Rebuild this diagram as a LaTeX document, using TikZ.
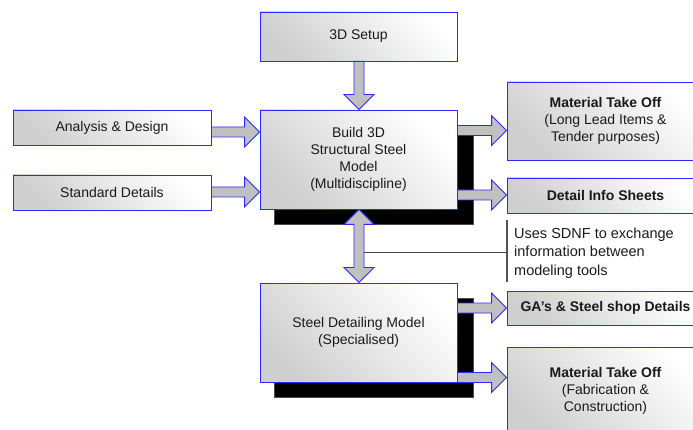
\documentclass[tikz,border=0pt]{standalone}
\usepackage{fontspec}
\setmainfont{Liberation Sans}
\usetikzlibrary{calc}

\definecolor{edgeblue}{HTML}{2B2BFF}
\definecolor{arrowgray}{HTML}{C0C0C0}
\definecolor{inkgray}{HTML}{1A1A1A}
\definecolor{notegray}{HTML}{555555}

% horizontal block arrow: from anchor #1 to anchor #2 at row #3
\newcommand\hblock[3]{%
  \path (#1 |- 0,#3) coordinate (hb-s) (#2 |- 0,#3) coordinate (hb-t);
  \draw[blockarrow] ($(hb-s)+(0,-5)$) -- ($(hb-t)+(-15,-5)$) -- ($(hb-t)+(-15,-15)$)
    -- (hb-t) -- ($(hb-t)+(-15,15)$) -- ($(hb-t)+(-15,5)$) -- ($(hb-s)+(0,5)$) -- cycle;}

% vertical block arrow pointing down: from anchor #1 to anchor #2 at column #3
\newcommand\vblock[3]{%
  \path (#3,0 |- #1) coordinate (vb-s) (#3,0 |- #2) coordinate (vb-t);
  \draw[blockarrow] ($(vb-s)+(-5,0)$) -- ($(vb-t)+(-5,-15)$) -- ($(vb-t)+(-15,-15)$)
    -- (vb-t) -- ($(vb-t)+(15,-15)$) -- ($(vb-t)+(5,-15)$) -- ($(vb-s)+(5,0)$) -- cycle;}

\tikzset{
  box/.style={draw=edgeblue, line width=0.9pt, top color=white, bottom color=gray!38,
    shading angle=-45, text=inkgray, align=center, inner sep=0pt,
    minimum width=197pt, font=\fontsize{14}{17}\selectfont},
  shadowbox/.style={fill=black, draw=black!70, line width=0.5pt},
  blockarrow/.style={draw=edgeblue, fill=arrowgray, line width=0.9pt, line join=miter},
  notebar/.style={draw=notegray, line width=1.2pt},
  noteline/.style={draw=black!75, line width=0.8pt},
}

\begin{document}
\begin{tikzpicture}[x=1pt, y=-1pt]
  \useasboundingbox (0,0) rectangle (693,430);
  \clip (0,0) rectangle (693,430);

  % drop shadows of the two model boxes
  \fill[shadowbox] (274,125) rectangle (473,224);
  \fill[shadowbox] (274,298) rectangle (473,397);

  % boxes
  \node[box, minimum height=49pt] (setup) at (358.5,36.5) {3D Setup};
  \node[box, minimum height=99pt] (build) at (358.5,159.5)
    {Build 3D\\Structural Steel\\Model\\(Multidiscipline)};
  \node[box, minimum width=198pt, minimum height=35pt] (analysis) at (112,127.5) {Analysis \& Design};
  \node[box, minimum width=198pt, minimum height=35pt] (standard) at (112,192.5) {Standard Details};
  \node[box, minimum height=78pt] (mto1) at (605.5,121)
    {\textbf{Material Take Off}\\(Long Lead Items \&\\Tender purposes)};
  \node[box, minimum height=35pt] (info) at (605.5,195.5) {\textbf{Detail Info Sheets}};
  \node[box, minimum height=99pt] (detail) at (358.5,332.5)
    {Steel Detailing Model\\(Specialised)};
  \node[box, minimum height=34pt] (ga) at (605.5,308) {\textbf{GA’s \& Steel shop Details}};
  \node[box, minimum height=88pt] (mto2) at (605.5,391)
    {\textbf{Material Take Off}\\(Fabrication \&\\Construction)};

  % connectors
  \vblock{setup.south}{build.north}{359}
  \hblock{analysis.east}{build.west}{132}
  \hblock{standard.east}{build.west}{192}
  \hblock{build.east}{mto1.west}{130.5}
  \hblock{build.east}{info.west}{195}
  \hblock{detail.east}{ga.west}{308}
  \hblock{detail.east}{mto2.west}{377.5}

  % two-way exchange between the models
  \path (359,0 |- build.south) coordinate (xt) (359,0 |- detail.north) coordinate (xb);
  \draw[blockarrow] (xt) -- ($(xt)+(15,15)$) -- ($(xt)+(5,15)$) -- ($(xb)+(5,-15)$)
    -- ($(xb)+(15,-15)$) -- (xb) -- ($(xb)+(-15,-15)$) -- ($(xb)+(-5,-15)$)
    -- ($(xt)+(-5,15)$) -- ($(xt)+(-15,15)$) -- cycle;

  % note on the exchange format
  \node[anchor=west, align=left, text=inkgray, inner xsep=0pt, inner ysep=0pt,
        font=\fontsize{14.5}{18.5}\selectfont] (note) at (514,253)
    {Uses SDNF to exchange\\information between\\modeling tools};
  \coordinate (bartop) at (507,220);
  \coordinate (barbot) at (507,282);
  \coordinate (tap) at (364,252);
  \draw[notebar] (bartop) -- (barbot);
  \draw[noteline] (tap) -- (tap -| bartop);
\end{tikzpicture}
\end{document}
